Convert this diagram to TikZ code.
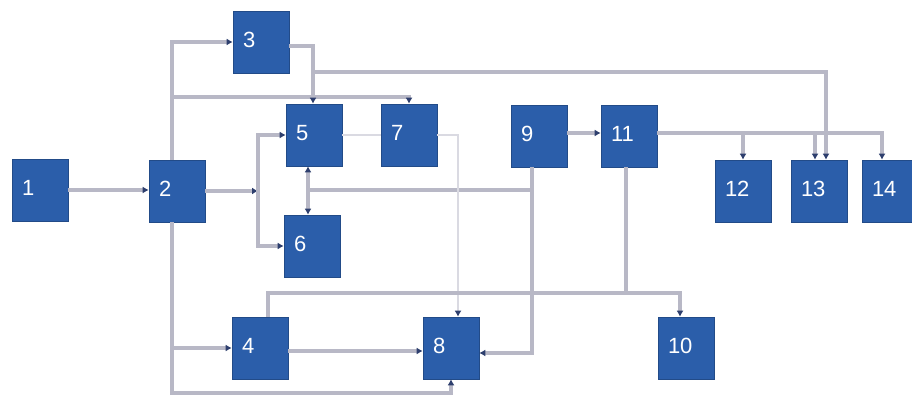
\documentclass[tikz,border=0pt]{standalone}
\usepackage{fontspec}
\setmainfont{Liberation Sans}
\usetikzlibrary{arrows.meta}
\definecolor{boxblue}{HTML}{2B5EAA}
\definecolor{wiregray}{HTML}{B8B8C6}
\definecolor{faintgray}{HTML}{DADAE2}
\definecolor{tipnavy}{HTML}{2E3F6E}
\tikzset{
  blk/.style={fill=boxblue, draw=boxblue!80!black, line width=0.6pt,
    minimum width=56pt, minimum height=62pt, inner sep=0pt,
    text=white, text width=36pt, align=left,
    font=\fontsize{22}{22}\selectfont},
  wire/.style={draw=wiregray, line width=3.2pt},
  faint/.style={draw=faintgray, line width=2.6pt},
  >={Latex[length=6pt,width=7pt,color=tipnavy]}
}
\newcommand{\up}[1]{\raisebox{5pt}{#1}}
\begin{document}
\begin{tikzpicture}[x=1pt,y=-1pt]
  \fill[white] (0,0) rectangle (912,398);
  \clip (0,0) rectangle (912,398);
  \draw
    (40,190) node[blk] (1){\up{1}}
    (177,191) node[blk] (2){\up{2}}
    (261,42) node[blk] (3){\up{3}}
    (314,135) node[blk] (5){\up{5}}
    (409,135) node[blk] (7){\up{7}}
    (312,246) node[blk] (6){\up{6}}
    (260,348) node[blk] (4){\up{4}}
    (451,348) node[blk] (8){\up{8}}
    (539,136) node[blk] (9){\up{9}}
    (629,136) node[blk] (11){\up{11}}
    (743,191) node[blk] (12){\up{12}}
    (819,191) node[blk] (13){\up{13}}
    (890,191) node[blk] (14){\up{14}}
    (686,348) node[blk] (10){\up{10}};
  % junctions
  \coordinate (up2) at (172,97);
  \coordinate (low2) at (172,393);
  \coordinate (mid2) at (172,348);
  \coordinate (split3) at (313,72);
  \coordinate (j56) at (258,191);
  \coordinate (j9) at (308,190);
  \coordinate (tap9) at (532,190);
  \coordinate (j11) at (626,293);
  \coordinate (row11) at (0,133);
  \coordinate (b12) at (743,133);
  \coordinate (b13) at (815,133);
  \begin{scope}[wire]
    \draw[->] (1.east) -- (1.east -| 2.west);
    \draw[->] ([xshift=-5pt]2.north) |- (3.west);
    \draw[->] (up2) -| (7.north);
    \draw[->] ([yshift=-4pt]3.east) -| ([xshift=-1pt]5.north);
    \draw[->] (split3) -| ([xshift=7pt]13.north);
    \draw[->] (2.east) -- (j56);
    \draw[->] (j56) |- (5.west);
    \draw[->] (j56) |- (6.west);
    \draw[->] ([xshift=-7pt]9.south) |- ([yshift=-5pt]8.east);
    \draw (tap9) -- (j9);
    \draw[->] (j9) -- (j9 |- 5.south);
    \draw[->] (j9) -- (j9 |- 6.north);
    \draw[faint] (5.east) -- (7.west);
    \draw[faint,->] (7.east) -| ([xshift=7pt]8.north);
    \draw[->] (9.east |- row11) -- (11.west |- row11);
    \draw[->] (11.east |- row11) -| ([xshift=-8pt]14.north);
    \draw[->] (b12) -- (12.north);
    \draw[->] (b13) -- ([xshift=-4pt]13.north);
    \draw ([xshift=-3pt]11.south) -- (j11);
    \draw[->] ([xshift=8pt]4.north) |- (j11) -| ([xshift=-6pt]10.north);
    \draw[->] ([xshift=-5pt]2.south) -- (low2) -| (8.south);
    \draw[->] (mid2) -- (4.west);
    \draw[->] ([yshift=-3pt]4.east) -- ([yshift=-3pt]8.west);
  \end{scope}
\end{tikzpicture}
\end{document}
